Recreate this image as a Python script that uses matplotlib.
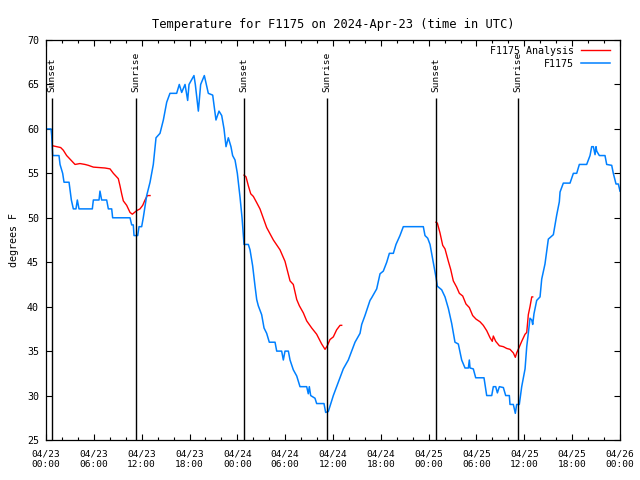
import numpy as np
import matplotlib
matplotlib.use('Agg')
import matplotlib.pyplot as plt
from matplotlib.ticker import MultipleLocator

# Observed temperature (hours since 04/23 00:00 UTC, degrees F)
obs_hours = [0.0, 0.63, 0.71, 0.84, 1.63, 1.76, 2.09, 2.26, 2.89, 3.18, 3.43, 3.55, 3.76, 3.93, 4.14,
             4.26, 5.81, 5.94, 6.65, 6.77, 6.98, 7.61, 7.82, 8.24, 8.36, 10.54, 10.75, 10.95, 11.04,
             11.5, 11.67, 12.0, 12.2, 12.63, 13.05, 13.46, 13.8, 14.3, 14.72, 15.14, 15.55, 16.39,
             16.72, 17.02, 17.44, 17.77, 17.94, 18.56, 18.73, 19.11, 19.4, 19.86, 20.36, 20.91, 21.32,
             21.7, 22.04, 22.33, 22.58, 22.87, 23.2, 23.41, 23.71, 24.0, 24.34, 24.59, 24.75, 24.84,
             25.38, 25.59, 25.92, 26.22, 26.43, 26.63, 27.05, 27.35, 27.68, 28.01, 28.73, 28.94,
             29.56, 29.77, 29.98, 30.4, 30.61, 31.02, 31.45, 31.86, 32.7, 32.9, 33.03, 33.2, 33.74,
             33.95, 34.87, 35.08, 35.41, 35.62, 36.04, 36.46, 36.88, 37.29, 37.92, 38.34, 38.76,
             39.39, 39.6, 40.01, 40.64, 40.85, 41.48, 41.9, 42.31, 42.74, 43.07, 43.57, 43.9, 44.4,
             44.82, 47.33, 47.54, 47.88, 48.17, 48.58, 48.92, 49.09, 49.63, 50.05, 50.47, 50.89,
             51.3, 51.72, 52.14, 52.56, 52.98, 53.1, 53.19, 53.6, 53.9, 54.94, 55.28, 55.91, 56.11,
             56.41, 56.62, 56.87, 57.37, 57.66, 58.12, 58.2, 58.62, 58.87, 59.04, 59.37, 59.67,
             60.09, 60.3, 60.5, 60.71, 60.93, 61.05, 61.21, 61.55, 61.97, 62.18, 62.59, 63.01,
             63.64, 64.06, 64.39, 64.48, 64.89, 65.73, 66.15, 66.57, 66.9, 67.82, 68.24, 68.45,
             68.66, 68.87, 68.99, 69.08, 69.41, 70.12, 70.33, 70.96, 71.16, 71.5, 71.79, 72.0]
obs_temp = [60.0, 60.0, 59.3, 57.0, 57.0, 56.0, 55.0, 54.0, 54.0, 52.0, 51.0, 51.0, 51.0, 52.0, 51.0,
            51.0, 51.0, 52.0, 52.0, 53.0, 52.0, 52.0, 51.0, 51.0, 50.0, 50.0, 49.2, 49.2, 48.0,
            48.0, 49.0, 49.0, 50.0, 52.5, 54.0, 56.0, 59.0, 59.5, 61.0, 63.0, 64.0, 64.0,
            65.0, 64.1, 65.0, 63.2, 65.0, 66.0, 65.0, 62.0, 65.0, 66.0, 64.0, 63.8, 61.0,
            62.0, 61.5, 60.0, 58.0, 59.0, 58.0, 57.0, 56.5, 55.0, 52.3, 50.0, 48.1, 47.0,
            47.0, 46.4, 44.6, 42.3, 40.8, 40.1, 39.1, 37.6, 37.0, 36.0, 36.0, 35.0,
            35.0, 34.0, 35.0, 35.0, 34.0, 32.9, 32.2, 31.0, 31.0, 30.2, 31.0, 30.0, 29.7,
            29.1, 29.1, 28.1, 28.2, 28.8, 30.0, 31.0, 32.0, 33.0, 34.0, 35.0, 36.0,
            37.0, 38.0, 39.0, 40.7, 41.0, 42.0, 43.7, 44.0, 45.0, 46.0, 46.0, 47.0, 48.0,
            49.0, 49.0, 48.0, 47.7, 47.0, 45.0, 43.3, 42.3, 41.9, 41.1, 39.8, 38.1,
            36.0, 35.8, 34.0, 33.1, 33.1, 34.0, 33.1, 33.0, 32.0, 32.0, 30.0, 30.0, 31.0,
            31.0, 30.3, 31.0, 30.9, 30.0, 30.0, 29.0, 29.0, 28.0, 29.0, 29.0, 31.0,
            33.0, 35.5, 37.0, 38.7, 38.5, 38.0, 39.2, 40.7, 41.1, 43.1, 44.8, 47.6,
            48.1, 50.3, 51.8, 52.9, 53.9, 53.9, 55.0, 55.0, 56.0, 56.0, 57.0, 58.0,
            58.0, 57.1, 58.0, 57.5, 57.0, 57.0, 56.0, 55.9, 55.0, 53.8, 53.8, 53.0]

# Analysis segments (one per night)
ana1_hours = [0.84, 1.84, 2.17, 2.59, 3.01, 3.64, 4.26, 4.89, 5.31, 5.94, 7.4, 8.03, 8.45, 9.07,
              9.28, 9.49, 9.7, 10.12, 10.54, 10.83, 11.37, 11.79, 12.13, 12.42, 12.71, 13.05]
ana1_temp = [58.1, 57.9, 57.6, 57.0, 56.6, 56.0, 56.1, 56.0, 55.9, 55.7, 55.6, 55.5, 55.0, 54.4,
             53.6, 52.7, 51.9, 51.4, 50.6, 50.4, 50.8, 51.0, 51.4, 52.0, 52.5, 52.5]
ana2_hours = [24.84, 25.09, 25.38, 25.68, 26.01, 26.43, 26.84, 27.68, 28.52, 29.35, 29.98, 30.61,
              31.02, 31.45, 31.78, 32.28, 32.7, 33.33, 33.95, 34.58, 35.0, 35.29, 35.62, 36.04,
              36.46, 36.88, 37.09]
ana2_temp = [54.8, 54.6, 53.6, 52.7, 52.4, 51.7, 51.0, 48.9, 47.5, 46.4, 45.1, 42.9,
             42.5, 40.8, 40.1, 39.3, 38.4, 37.6, 36.9, 35.8, 35.2, 35.6, 36.3, 36.6,
             37.4, 37.9, 37.9]
ana3_hours = [48.92, 49.09, 49.42, 49.76, 50.05, 50.47, 50.76, 51.09, 51.51, 51.85, 52.27, 52.68,
              53.1, 53.52, 53.94, 54.44, 54.85, 55.28, 55.7, 55.98, 56.11, 56.41, 56.87, 57.37,
              57.79, 58.2, 58.62, 58.87, 59.04, 59.29, 59.67, 60.09, 60.3, 60.5, 60.71, 60.93, 61.05]
ana3_temp = [49.5, 49.4, 48.3, 46.9, 46.5, 45.1, 44.2, 42.9, 42.2, 41.5, 41.2, 40.3,
             39.9, 39.0, 38.6, 38.3, 37.9, 37.3, 36.5, 36.1, 36.7, 36.1, 35.6, 35.5,
             35.3, 35.2, 34.8, 34.3, 34.8, 35.3, 36.1, 36.9, 37.1, 39.1, 40.0, 41.1, 41.1]

# Sun events
sun_hours = [0.79, 11.25, 24.84, 35.29, 48.96, 59.24]
sun_names = ['Sunset', 'Sunrise', 'Sunset', 'Sunrise', 'Sunset', 'Sunrise']

xtick_hours = list(range(0, 73, 6))
xtick_labels = ['04/23\n00:00', '04/23\n06:00', '04/23\n12:00', '04/23\n18:00',
                '04/24\n00:00', '04/24\n06:00', '04/24\n12:00', '04/24\n18:00',
                '04/25\n00:00', '04/25\n06:00', '04/25\n12:00', '04/25\n18:00',
                '04/26\n00:00']

plt.rcParams['font.family'] = 'DejaVu Sans Mono'
plt.rcParams['font.size'] = 7.2

fig = plt.figure(figsize=(6.4, 4.8), dpi=100)
ax = fig.add_axes([46 / 640, 40 / 480, 574 / 640, 400 / 480])

red = '#ff0000'
blue = '#0080ff'

ax.plot(ana1_hours, ana1_temp, color=red, lw=1, label='F1175 Analysis')
ax.plot(ana2_hours, ana2_temp, color=red, lw=1)
ax.plot(ana3_hours, ana3_temp, color=red, lw=1)
ax.plot(obs_hours, obs_temp, color=blue, lw=1.1, label='F1175')

ax.vlines(sun_hours, 25, 63.5, color='black', lw=1)
for h, name in zip(sun_hours, sun_names):
    ax.text(h, 64.1, name, rotation=90, ha='center', va='bottom', fontsize=6.8)

ax.set_xlim(0, 72)
ax.set_ylim(25, 70)
ax.set_xticks(xtick_hours)
ax.set_xticklabels(xtick_labels, fontsize=6.8, linespacing=1.15)
ax.xaxis.set_minor_locator(MultipleLocator(2))
ax.set_yticks(range(25, 71, 5))

ax.tick_params(which='both', direction='in', top=True, right=True)
ax.tick_params(which='major', length=4, width=0.8)
ax.tick_params(which='minor', length=2.2, width=0.8)
ax.tick_params(axis='x', pad=7)
ax.tick_params(axis='y', pad=5)
for s in ax.spines.values():
    s.set_linewidth(0.9)

ax.set_title('Temperature for F1175 on 2024-Apr-23 (time in UTC)', pad=8.5)
ax.set_ylabel('degrees F')
ax.yaxis.set_label_coords(-0.047, 0.5)

ax.legend(loc='upper right', bbox_to_anchor=(0.9895, 0.995), borderaxespad=0,
          frameon=False, markerfirst=False, handlelength=2.9,
          labelspacing=0.3, handletextpad=0.7)

fig.savefig('out.png', dpi=100)
